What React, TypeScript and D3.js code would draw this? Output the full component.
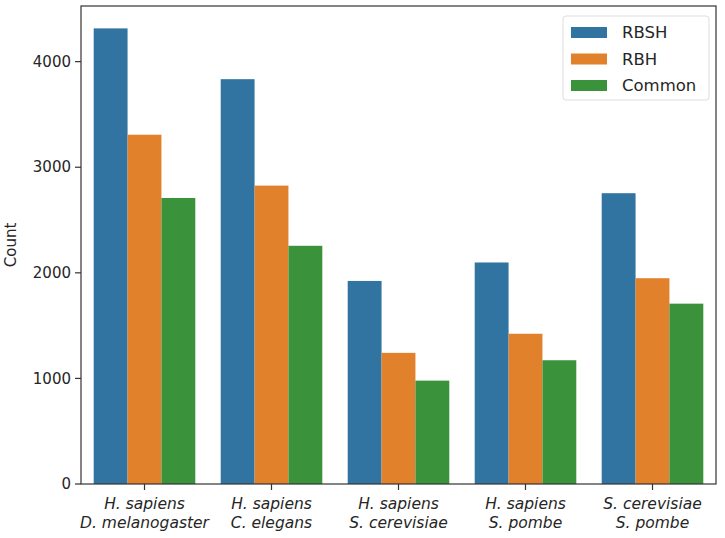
import { useEffect, useRef } from "react";
import * as d3 from "d3";

const pairsTop = ["H. sapiens", "H. sapiens", "H. sapiens", "H. sapiens", "S. cerevisiae"];
const pairsBottom = ["D. melanogaster", "C. elegans", "S. cerevisiae", "S. pombe", "S. pombe"];
const seriesNames = ["RBSH", "RBH", "Common"];
const rbsh = [4315, 3834, 1923, 2098, 2754];
const rbh = [3308, 2826, 1242, 1423, 1949];
const common = [2709, 2256, 979, 1172, 1708];
const colors = ["#3274a1", "#e1812c", "#3a923a"];
const yTicks = [0, 1000, 2000, 3000, 4000];

const App = () => {
  const ref = useRef<SVGSVGElement>(null);

  useEffect(() => {
    const width = 725;
    const height = 538;
    const m = { left: 81, right: 9, top: 6, bottom: 54 };
    const font = "DejaVu Sans, sans-serif";

    const svg = d3.select(ref.current);
    svg.selectAll("*").remove();
    svg.attr("width", width).attr("height", height);

    const values = [rbsh, rbh, common];
    const cats = pairsTop.map((_, i) => i);

    const x = d3.scaleBand<number>()
      .domain(cats)
      .range([m.left, width - m.right])
      .paddingInner(0.2)
      .paddingOuter(0.1);
    const xs = d3.scaleBand<number>()
      .domain([0, 1, 2])
      .range([0, x.bandwidth()]);
    const y = d3.scaleLinear()
      .domain([0, 4527])
      .range([height - m.bottom, m.top]);

    // bars
    values.forEach((vals, s) => {
      svg.append("g")
        .selectAll("rect")
        .data(vals)
        .join("rect")
        .attr("x", (_, i) => x(i)! + xs(s)!)
        .attr("y", d => y(d))
        .attr("width", xs.bandwidth())
        .attr("height", d => y(0) - y(d))
        .attr("fill", colors[s]);
    });

    // y axis ticks
    const yg = svg.append("g");
    yTicks.forEach(t => {
      yg.append("line")
        .attr("x1", m.left - 6).attr("x2", m.left)
        .attr("y1", y(t)).attr("y2", y(t))
        .attr("stroke", "#333").attr("stroke-width", 1.2);
      yg.append("text")
        .attr("x", m.left - 10).attr("y", y(t))
        .attr("dy", "0.35em")
        .attr("text-anchor", "end")
        .style("font-family", font).style("font-size", "15px")
        .attr("fill", "#262626")
        .text(t);
    });

    svg.append("text")
      .attr("transform", `translate(16, ${(m.top + height - m.bottom) / 2}) rotate(-90)`)
      .attr("text-anchor", "middle")
      .style("font-family", font).style("font-size", "15px")
      .attr("fill", "#262626")
      .text("Count");

    // x axis ticks
    cats.forEach(i => {
      const cx = x(i)! + x.bandwidth() / 2;
      svg.append("line")
        .attr("x1", cx).attr("x2", cx)
        .attr("y1", y(0)).attr("y2", y(0) + 6)
        .attr("stroke", "#333").attr("stroke-width", 1.2);
      const t = svg.append("text")
        .attr("x", cx)
        .attr("text-anchor", "middle")
        .style("font-family", font).style("font-size", "15.5px")
        .style("font-style", "italic")
        .attr("fill", "#262626");
      t.append("tspan").attr("x", cx).attr("y", y(0) + 25).text(pairsTop[i]);
      t.append("tspan").attr("x", cx).attr("y", y(0) + 44).text(pairsBottom[i]);
    });

    // frame
    svg.append("rect")
      .attr("x", m.left).attr("y", m.top)
      .attr("width", width - m.left - m.right)
      .attr("height", height - m.top - m.bottom)
      .attr("fill", "none")
      .attr("stroke", "#333").attr("stroke-width", 1.2);

    // legend
    const lg = svg.append("g").attr("transform", "translate(563, 16)");
    lg.append("rect")
      .attr("width", 146).attr("height", 84).attr("rx", 3)
      .attr("fill", "white").attr("fill-opacity", 0.8)
      .attr("stroke", "#ddd");
    seriesNames.forEach((name, s) => {
      lg.append("rect")
        .attr("x", 8).attr("y", 11 + s * 26.5)
        .attr("width", 36).attr("height", 11)
        .attr("fill", colors[s]);
      lg.append("text")
        .attr("x", 59).attr("y", 16.5 + s * 26.5)
        .attr("dy", "0.35em")
        .style("font-family", font).style("font-size", "16.5px")
        .attr("fill", "#262626")
        .text(name);
    });
  }, []);

  return (
    <div style={{ position: "absolute", left: 0, top: 0 }}>
      <svg ref={ref}></svg>
    </div>
  );
};

export default App;
